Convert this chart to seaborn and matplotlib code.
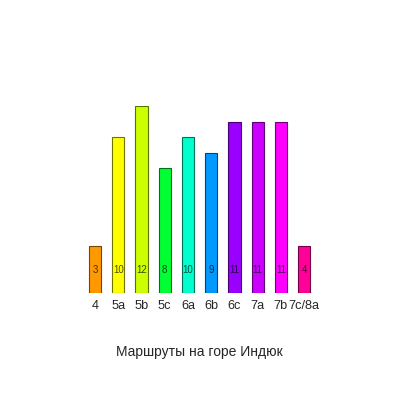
import matplotlib
matplotlib.use("Agg")
import matplotlib.pyplot as plt
import matplotlib.colors as mcolors
import seaborn as sns
import pandas as pd

# Маршруты по категориям
categories = ["4", "5a", "5b", "5c", "6a", "6b", "6c", "7a", "7b", "7c/8a"]
heights = [3, 10, 12, 8, 10, 9, 11, 11, 11, 3]
labels = ["3", "10", "12", "8", "10", "9", "11", "11", "11", "4"]
bar_colors = ["#FF9900", "#FFFF00", "#CCFF00", "#00FF33", "#00FFCC",
              "#0099FF", "#9900FF", "#CC00FF", "#FF00FF", "#FF0099"]

df = pd.DataFrame({"cat": categories, "n": heights})

sns.set_style("white")
plt.rcParams["font.family"] = ["Liberation Sans", "DejaVu Sans"]

fig = plt.figure(figsize=(4, 4), dpi=100)
ax = fig.add_axes([0.2085, 0.2675, 0.581, 0.4675])

edge = [tuple(c * 0.45 for c in mcolors.to_rgb(col)) for col in bar_colors]
txt = [tuple(c * 0.3 for c in mcolors.to_rgb(col)) for col in bar_colors]
sns.barplot(data=df, x="cat", y="n", hue="cat", palette=bar_colors,
            legend=False, width=0.52, saturation=1, ax=ax)
for patch, ec in zip(ax.patches, edge):
    patch.set_edgecolor(ec)
    patch.set_linewidth(0.8)

for i, (lab, c) in enumerate(zip(labels, txt)):
    ax.text(i, 1.5, lab, ha="center", va="center", fontsize=7, color=c)

ax.set_ylim(0, 12)
ax.set_xlim(-0.5, len(categories) - 0.5)
ax.set_yticks([])
ax.set_ylabel("")
ax.set_xlabel("Маршруты на горе Индюк", fontsize=10, labelpad=24)
ax.tick_params(axis="x", length=0, labelsize=9.2, pad=5)
sns.despine(ax=ax, left=True, bottom=True)

fig.savefig("out.png", dpi=100)
